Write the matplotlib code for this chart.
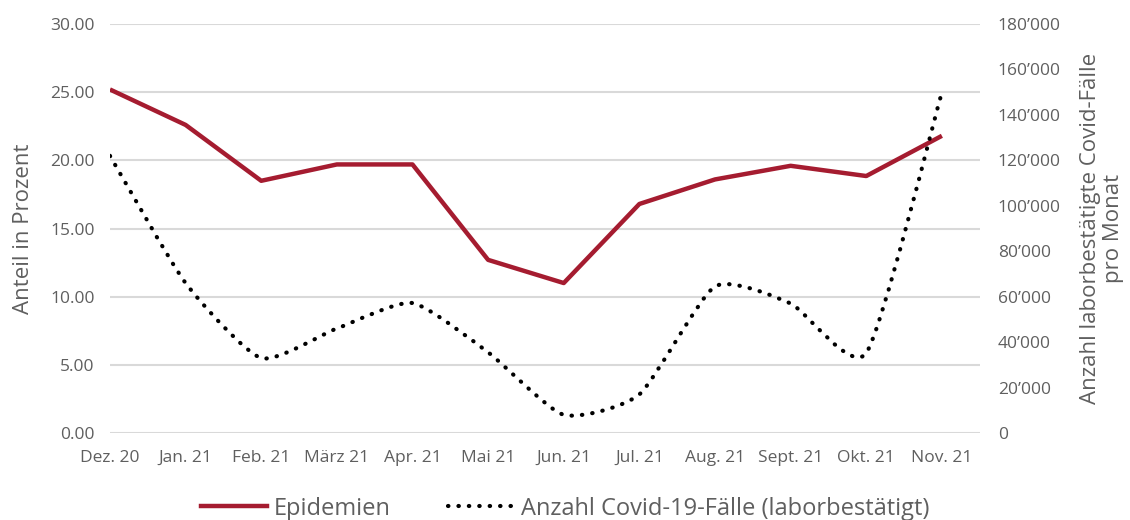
import numpy as np
import matplotlib
matplotlib.use('Agg')
import matplotlib.pyplot as plt
from matplotlib.path import Path
from matplotlib.patches import PathPatch
from matplotlib.ticker import FuncFormatter

plt.rcParams['font.family'] = ['Open Sans', 'DejaVu Sans']

months = ['Dez. 20', 'Jan. 21', 'Feb. 21', 'März 21', 'Apr. 21', 'Mai 21',
          'Jun. 21', 'Jul. 21', 'Aug. 21', 'Sept. 21', 'Okt. 21', 'Nov. 21']
epidemien = [25.2, 22.6, 18.5, 19.7, 19.7, 12.7, 11.0, 16.8, 18.6, 19.6, 18.85, 21.8]
faelle = [122000, 66000, 33000, 46000, 57200, 35500, 8000, 17000, 64500, 57000, 35200, 150000]

red = '#A51C30'
grey = '#5f5f5f'
x = np.arange(len(months))

fig = plt.figure(figsize=(11.3, 5.2), dpi=100)
ax = fig.add_axes([0.0973, 0.1673, 0.7697, 0.7865])
ax2 = ax.twinx()

ax.set_ylim(0, 30)
ax.set_yticks(np.arange(0, 31, 5))
ax.yaxis.set_major_formatter(FuncFormatter(lambda v, p: '%.2f' % v))
ax.set_xlim(0, 11.5)
ax.set_xticks(x)
ax.set_xticklabels(months)
ax.grid(axis='y', color='#d9d9d9', lw=1.5)
ax.set_axisbelow(True)

ax2.set_ylim(0, 180000)
ax2.set_yticks(np.arange(0, 180001, 20000))
ax2.yaxis.set_major_formatter(FuncFormatter(lambda v, p: '{:,}'.format(int(v)).replace(',', '\u2019')))

for a in (ax, ax2):
    for s in a.spines.values():
        s.set_visible(False)
    a.tick_params(length=0, labelsize=12.5, labelcolor=grey)
ax.tick_params(axis='x', pad=12)
ax.tick_params(axis='y', pad=11)
ax2.tick_params(axis='y', pad=13)

# red line (straight)
ax.plot(x, epidemien, color=red, lw=3.2, solid_capstyle='butt', zorder=3)

# dotted smoothed line through the points
k = 0.1
pts = np.column_stack([x, faelle]).astype(float)
verts = [pts[0]]
codes = [Path.MOVETO]
n = len(pts)
for i in range(n - 1):
    p0 = pts[i - 1] if i > 0 else pts[i]
    p1 = pts[i]
    p2 = pts[i + 1]
    p3 = pts[i + 2] if i + 2 < n else pts[i + 1]
    c1 = p1 + (p2 - p0) * k
    c2 = p2 - (p3 - p1) * k
    verts += [c1, c2, p2]
    codes += [Path.CURVE4] * 3
patch = PathPatch(Path(verts, codes), facecolor='none', edgecolor='black',
                  lw=3, linestyle=(0, (0.1, 2.4)), capstyle='round', zorder=3)
ax2.add_patch(patch)

ax.set_ylabel('Anteil in Prozent', fontsize=16, color=grey, labelpad=12)
ax2.set_ylabel('Anzahl laborbestätigte Covid-Fälle\npro Monat', fontsize=16,
               color=grey, labelpad=14, linespacing=1.1)

h1, = ax.plot([], [], color=red, lw=3.2)
h2, = ax.plot([], [], color='black', lw=3, linestyle=(0, (0.1, 2.4)),
              dash_capstyle='round')
fig.legend([h1, h2], ['Epidemien', 'Anzahl Covid-19-Fälle (laborbestätigt)'],
           loc='lower center', bbox_to_anchor=(0.5, -0.042), ncol=2, frameon=False,
           fontsize=17, labelcolor=grey, handlelength=2.8, columnspacing=2.4,
           handletextpad=0.3)

fig.savefig('out.png', dpi=100)
